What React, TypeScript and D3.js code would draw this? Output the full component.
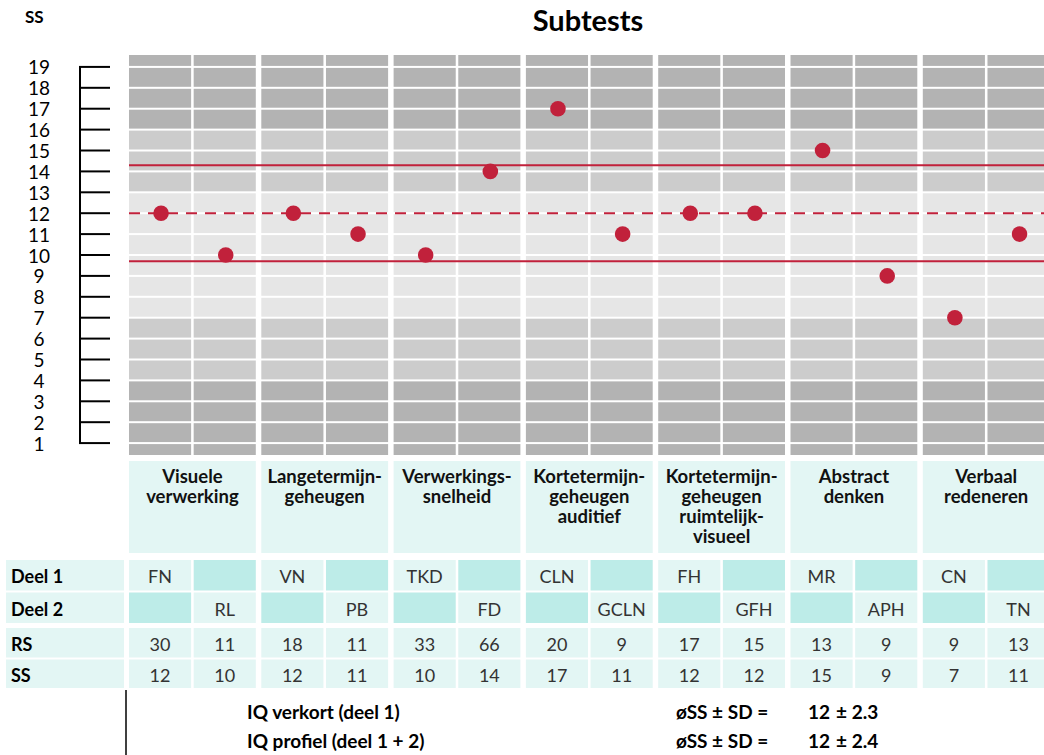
import React from "react";
import * as d3 from "d3";

const groupLabels: string[][] = [
  ["Visuele", "verwerking"],
  ["Langetermijn-", "geheugen"],
  ["Verwerkings-", "snelheid"],
  ["Kortetermijn-", "geheugen", "auditief"],
  ["Kortetermijn-", "geheugen", "ruimtelijk-", "visueel"],
  ["Abstract", "denken"],
  ["Verbaal", "redeneren"],
];
const deel1Codes = ["FN", "VN", "TKD", "CLN", "FH", "MR", "CN"];
const deel2Codes = ["RL", "PB", "FD", "GCLN", "GFH", "APH", "TN"];
const rsValues = [30, 11, 18, 11, 33, 66, 20, 9, 17, 15, 13, 9, 9, 13];
const ssValues = [12, 10, 12, 11, 10, 14, 17, 11, 12, 12, 15, 9, 7, 11];
const yTicks = d3.range(1, 20);
const meanSS = 12;
const sdDeel1 = 2.3;
const sdDeel2 = 2.4;
const summaryRows = [
  { label: "IQ verkort (deel 1)", mean: meanSS, sd: sdDeel1 },
  { label: "IQ profiel (deel 1 + 2)", mean: meanSS, sd: sdDeel2 },
];
// score bands: [from, to, colour]
const bands: [number, number, string][] = [
  [16, 20, "#b3b3b3"],
  [13, 16, "#cccccc"],
  [7, 13, "#e6e6e6"],
  [4, 7, "#cccccc"],
  [0, 4, "#b3b3b3"],
];

const W = 1044;
const H = 755;
const FONT = "Lato, 'Open Sans', sans-serif";
const RED = "#c1213b";
const LIGHT = "#e3f6f4";
const TEAL = "#bdece8";

export default function App() {
  const y = d3.scaleLinear().domain([0.43, 19.57]).range([455, 55]);
  const gStep = 132.3;
  const gPad = 5.5;
  const xg = d3
    .scaleBand<number>()
    .domain(d3.range(7))
    .range([129, 129 + 7 * gStep - gPad])
    .paddingInner(gPad / gStep);
  const bw = xg.bandwidth();
  const xs = d3
    .scaleBand<number>()
    .domain([0, 1])
    .range([0, bw])
    .paddingInner(2.5 / (bw / 2));
  const sw = xs.bandwidth();
  const subX = (g: number, s: number) => (xg(g) as number) + (xs(s) as number);
  const subC = (k: number) => subX(Math.floor(k / 2), k % 2) + sw / 2;

  const boundaries = [0.43, ...yTicks, 19.57];
  const bandColor = (v: number) => {
    const b = bands.find((b) => v >= b[0] && v < b[1]);
    return b ? b[2] : "#e6e6e6";
  };

  const gridRects: JSX.Element[] = [];
  d3.range(7).forEach((g) => {
    [0, 1].forEach((s) => {
      for (let i = 0; i < boundaries.length - 1; i++) {
        const lo = boundaries[i];
        const hi = boundaries[i + 1];
        const top = y(hi) + (hi === 19.57 ? 0 : 1);
        const bot = y(lo) - (lo === 0.43 ? 0 : 1);
        gridRects.push(
          <rect
            key={`g${g}-${s}-${i}`}
            x={subX(g, s)}
            y={top}
            width={sw}
            height={bot - top}
            fill={bandColor((lo + hi) / 2)}
          />
        );
      }
    });
  });

  const rows = {
    header: [461, 553],
    d1: [560, 590.5],
    d2: [592.5, 623],
    rs: [628, 657.5],
    ss: [659.5, 688],
  };
  const mid = (r: number[]) => (r[0] + r[1]) / 2;
  const cellText = { fontFamily: FONT, fontSize: 18, fill: "#333" };
  const labelText = { fontFamily: FONT, fontSize: 18, fontWeight: 700, fill: "#000" };

  const tableCells: JSX.Element[] = [];
  d3.range(7).forEach((g) => {
    const gx = xg(g) as number;
    tableCells.push(
      <rect key={`h${g}`} x={gx} y={rows.header[0]} width={bw} height={rows.header[1] - rows.header[0]} fill={LIGHT} />
    );
    groupLabels[g].forEach((line, li) => {
      tableCells.push(
        <text
          key={`ht${g}-${li}`}
          x={gx + bw / 2}
          y={483 + li * 20}
          textAnchor="middle"
          fontFamily={FONT}
          fontSize={18.5}
          fontWeight={700}
          fill="#111"
        >
          {line}
        </text>
      );
    });
    [0, 1].forEach((s) => {
      const k = g * 2 + s;
      const x = subX(g, s);
      const cx = x + sw / 2;
      const defs: [number[], string, string][] = [
        [rows.d1, s === 0 ? LIGHT : TEAL, s === 0 ? deel1Codes[g] : ""],
        [rows.d2, s === 1 ? LIGHT : TEAL, s === 1 ? deel2Codes[g] : ""],
        [rows.rs, LIGHT, String(rsValues[k])],
        [rows.ss, LIGHT, String(ssValues[k])],
      ];
      defs.forEach(([r, fill, txt], ri) => {
        tableCells.push(
          <rect key={`c${k}-${ri}`} x={x} y={r[0]} width={sw} height={r[1] - r[0]} fill={fill} />
        );
        if (txt)
          tableCells.push(
            <text key={`ct${k}-${ri}`} x={cx} y={mid(r) + 1} textAnchor="middle" dominantBaseline="central" {...cellText}>
              {txt}
            </text>
          );
      });
    });
  });

  const rowLabels: [number[], string][] = [
    [rows.d1, "Deel 1"],
    [rows.d2, "Deel 2"],
    [rows.rs, "RS"],
    [rows.ss, "SS"],
  ];

  const lineX0 = 129;
  const lineX1 = W;

  return (
    <svg width={W} height={H} style={{ position: "absolute", left: 0, top: 0, background: "#fff" }}>
      <rect x={0} y={0} width={W} height={H} fill="#fff" />
      <text x={25} y={23} fontFamily={FONT} fontSize={17} fontWeight={700}>SS</text>
      <text x={588} y={31} textAnchor="middle" fontFamily={FONT} fontSize={29} fontWeight={700}>Subtests</text>

      {/* y axis */}
      <line x1={80} x2={80} y1={y(19)} y2={y(1)} stroke="#000" strokeWidth={2} />
      {yTicks.map((t) => (
        <g key={`t${t}`}>
          <line x1={79} x2={110} y1={y(t)} y2={y(t)} stroke="#000" strokeWidth={2} />
          <text x={39} y={y(t)} textAnchor="middle" dominantBaseline="central" fontFamily={FONT} fontSize={19} fill="#000">
            {t}
          </text>
        </g>
      ))}

      {gridRects}

      {/* mean and SD lines */}
      <line x1={lineX0} x2={lineX1} y1={y(meanSS + sdDeel1)} y2={y(meanSS + sdDeel1)} stroke={RED} strokeWidth={2} />
      <line x1={lineX0} x2={lineX1} y1={y(meanSS - sdDeel1)} y2={y(meanSS - sdDeel1)} stroke={RED} strokeWidth={2} />
      <line x1={lineX0} x2={lineX1} y1={y(meanSS)} y2={y(meanSS)} stroke={RED} strokeWidth={2} strokeDasharray="11 8" />

      {ssValues.map((v, k) => (
        <circle key={`d${k}`} cx={subC(k) + 1} cy={y(v)} r={7.8} fill={RED} />
      ))}

      {tableCells}
      {rowLabels.map(([r, txt]) => (
        <g key={txt}>
          <rect x={6} y={r[0]} width={118} height={r[1] - r[0]} fill={LIGHT} />
          <text x={11} y={mid(r) + 1} dominantBaseline="central" {...labelText}>{txt}</text>
        </g>
      ))}

      {/* summary */}
      <line x1={126} x2={126} y1={690} y2={H} stroke="#000" strokeWidth={1.5} />
      {summaryRows.map((r, i) => {
        const cy = 711 + i * 29;
        const st = { fontFamily: FONT, fontSize: 19, fontWeight: 700, fill: "#000" } as const;
        return (
          <g key={r.label}>
            <text x={247} y={cy} dominantBaseline="central" {...st}>{r.label}</text>
            <text x={676} y={cy} dominantBaseline="central" {...st}>øSS ± SD =</text>
            <text x={808} y={cy} dominantBaseline="central" {...st}>{r.mean}</text>
            <text x={836} y={cy} dominantBaseline="central" {...st}>± {r.sd.toFixed(1)}</text>
          </g>
        );
      })}
    </svg>
  );
}
